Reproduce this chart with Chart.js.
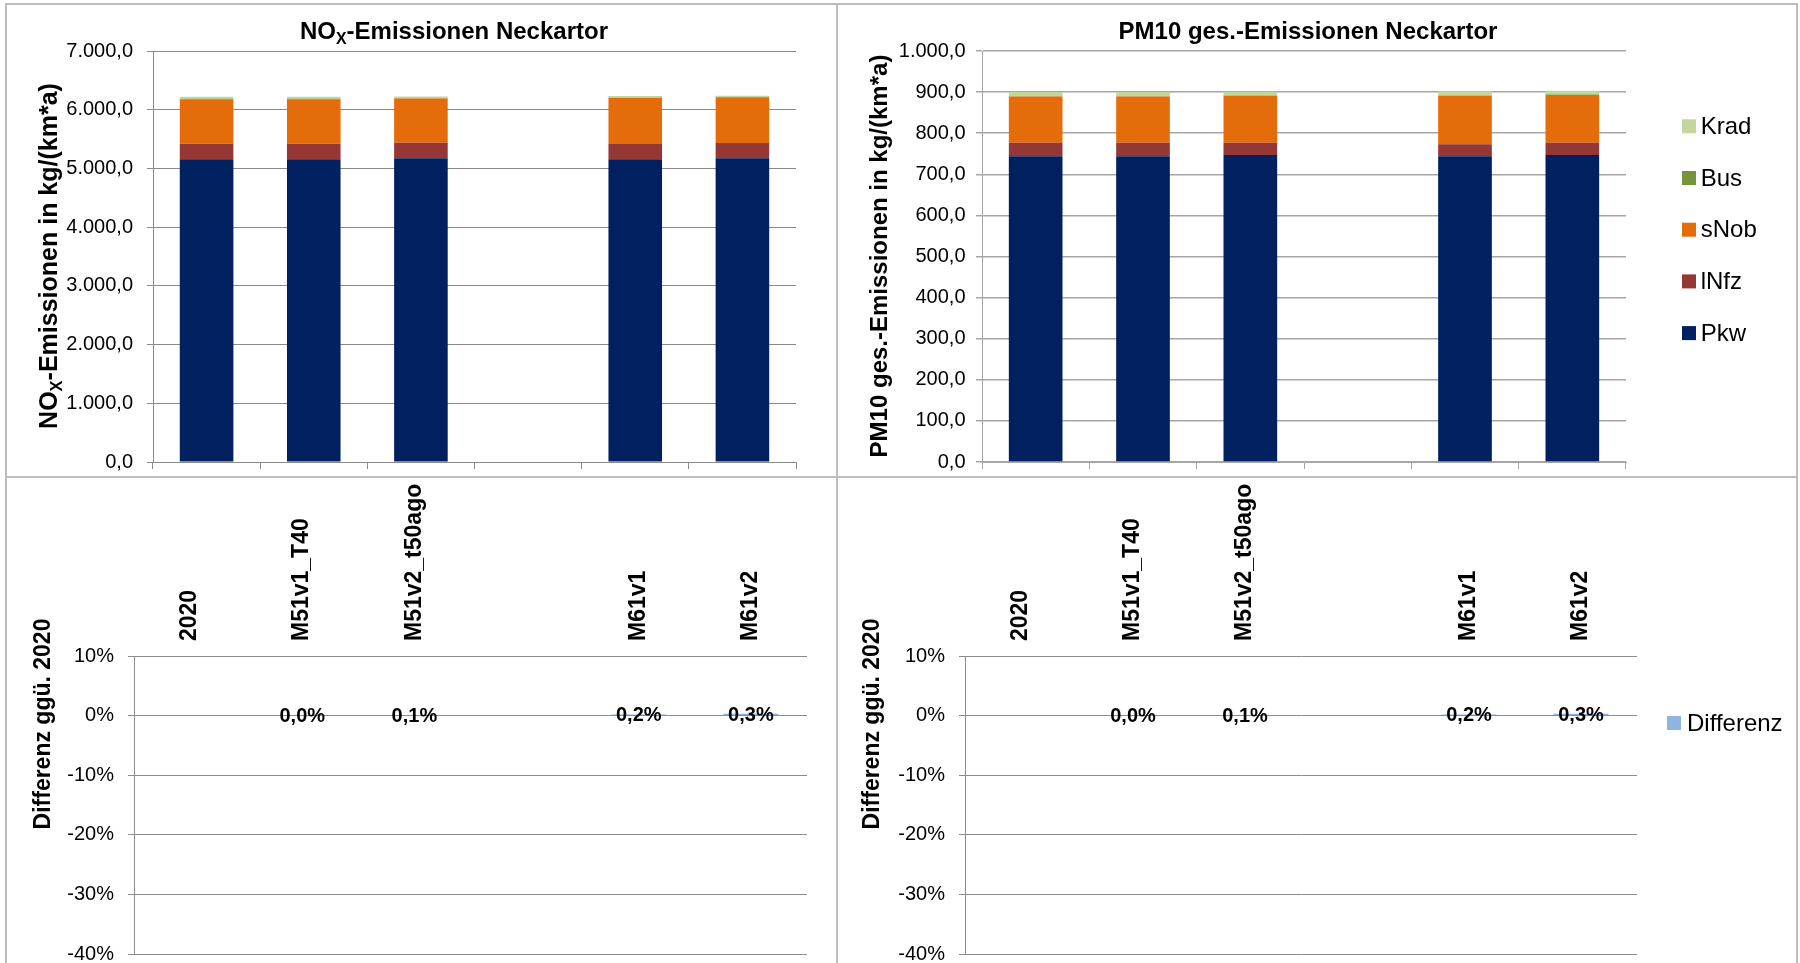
<!DOCTYPE html>
<html>
<head>
<meta charset="utf-8">
<script src="https://cdn.jsdelivr.net/npm/chart.js@4.4.0/dist/chart.umd.min.js"></script>
<style>
  html, body { margin: 0; padding: 0; background: #fff; width: 1800px; height: 963px; overflow: hidden; }
  .panel { position: absolute; }
  .rule { position: absolute; background: #bdbdbd; z-index: 2; }
</style>
</head>
<body>
<div class="panel" style="left:6px;top:4px;width:831px;height:493px"><canvas id="noxChart"></canvas></div>
<div class="panel" style="left:837px;top:4px;width:960px;height:493px"><canvas id="pmChart"></canvas></div>
<div class="panel" style="left:6px;top:477px;width:831px;height:503px"><canvas id="noxDiffChart"></canvas></div>
<div class="panel" style="left:837px;top:477px;width:960px;height:503px"><canvas id="pmDiffChart"></canvas></div>

<div class="rule" style="left:5px;top:3px;width:1793px;height:2px"></div>
<div class="rule" style="left:5px;top:476px;width:1793px;height:2px"></div>
<div class="rule" style="left:5px;top:3px;width:2px;height:960px"></div>
<div class="rule" style="left:836px;top:3px;width:2px;height:960px"></div>
<div class="rule" style="left:1796px;top:3px;width:2px;height:960px"></div>

<script>
// categories (one empty slot between the M51 and M61 groups)
const categories = ['2020', 'M51v1_T40', 'M51v2_t50ago', '', 'M61v1', 'M61v2'];
const seriesNames = ['Pkw', 'lNfz', 'sNob', 'Bus', 'Krad'];
const seriesColors = ['#002060', '#953735', '#E46C0A', '#77933C', '#C3D69B'];

// NOx emissions in kg/(km*a)
const noxPkw  = [5155, 5155, 5175, null, 5155, 5175];
const noxLnfz = [265, 265, 262, null, 262, 258];
const noxSnob = [760, 760, 752, null, 782, 779];
const noxBus  = [5, 5, 5, null, 5, 5];
const noxKrad = [35, 35, 32, null, 30, 22];

// PM10 emissions in kg/(km*a)
const pmPkw  = [744, 744, 747, null, 744, 747];
const pmLnfz = [33, 33, 30, null, 29, 30];
const pmSnob = [112, 112, 114, null, 118, 116];
const pmBus  = [1, 1, 1, null, 1, 1];
const pmKrad = [10, 10, 9, null, 10, 9];

// difference vs. 2020 in percent
const noxDiff = [null, 0.0, 0.1, null, 0.2, 0.3];
const pmDiff  = [null, 0.0, 0.1, null, 0.2, 0.3];

// axis ranges
const noxAxis  = { min: 0, max: 7000, step: 1000 };
const pmAxis   = { min: 0, max: 1000, step: 100 };
const diffAxis = { min: -40, max: 10, step: 10 };

const FONT = '"Liberation Sans", Arial, Helvetica, sans-serif';
Chart.defaults.font.family = FONT;
Chart.defaults.color = '#000';

function deNum(v) {
  const parts = Number(v).toFixed(1).split('.');
  parts[0] = parts[0].replace(/\B(?=(\d{3})+(?!\d))/g, '.');
  return parts.join(',');
}
function pct(v) {
  return Number(v).toFixed(1).replace('.', ',') + '%';
}

// titles with subscripts, optionally rotated
function richTextPlugin(items) {
  return {
    id: 'richText',
    afterDraw(chart) {
      const ctx = chart.ctx;
      items.forEach(it => {
        const size = it.size;
        const subSize = size * 0.66;
        const fontOf = s => 'bold ' + s + 'px ' + FONT;
        ctx.save();
        ctx.translate(it.x, it.y);
        if (it.rotate) ctx.rotate(it.rotate);
        ctx.fillStyle = '#000';
        ctx.textAlign = 'left';
        ctx.textBaseline = 'alphabetic';
        let w = 0;
        it.parts.forEach(p => {
          ctx.font = fontOf(p.sub ? subSize : size);
          w += ctx.measureText(p.t).width;
        });
        let x = -w / 2;
        const base = size * 0.36;
        it.parts.forEach(p => {
          ctx.font = fontOf(p.sub ? subSize : size);
          ctx.fillText(p.t, x, p.sub ? base + size * 0.2 : base);
          x += ctx.measureText(p.t).width;
        });
        ctx.restore();
      });
    }
  };
}

function sideLegendPlugin(cfg) {
  return {
    id: 'sideLegend',
    afterDraw(chart) {
      const ctx = chart.ctx;
      const items = chart.data.datasets.map(d => ({ label: d.label, color: d.backgroundColor }));
      if (cfg.reverse) items.reverse();
      const x = chart.chartArea.right + cfg.dx;
      ctx.save();
      ctx.font = '24px ' + FONT;
      ctx.textBaseline = 'middle';
      ctx.textAlign = 'left';
      items.forEach((it, i) => {
        const cy = cfg.y + i * cfg.step;
        ctx.fillStyle = it.color;
        ctx.fillRect(x, cy - 7, 14, 14);
        ctx.fillStyle = '#000';
        ctx.fillText(it.label, x + cfg.gap, cy + 1);
      });
      ctx.restore();
    }
  };
}

const valueLabelPlugin = {
  id: 'valueLabels',
  afterDatasetsDraw(chart) {
    const ctx = chart.ctx;
    const meta = chart.getDatasetMeta(0);
    const values = chart.data.datasets[0].data;
    ctx.save();
    ctx.font = 'bold 20px ' + FONT;
    ctx.textAlign = 'center';
    ctx.textBaseline = 'middle';
    ctx.fillStyle = '#000';
    meta.data.forEach((bar, i) => {
      const v = values[i];
      if (v === null || v === undefined) return;
      ctx.fillText(pct(v), bar.x, (bar.y + bar.base) / 2 + 1);
    });
    ctx.restore();
  }
};

function stackedChart(id, series, axis, o) {
  const datasets = seriesNames.map((name, i) => ({
    label: name,
    data: series[i],
    backgroundColor: seriesColors[i],
    borderWidth: 0,
    barPercentage: 0.5,
    categoryPercentage: 1
  }));
  return new Chart(document.getElementById(id), {
    type: 'bar',
    data: { labels: categories, datasets: datasets },
    options: {
      responsive: true,
      maintainAspectRatio: false,
      animation: false,
      layout: { padding: { top: 47, right: o.right, bottom: 20, left: 0 } },
      plugins: { legend: { display: false }, tooltip: { enabled: false }, title: { display: false } },
      scales: {
        x: {
          stacked: true,
          grid: { offset: true, drawOnChartArea: false, drawTicks: true, tickLength: 7, color: o.grid },
          border: { display: true, color: o.grid },
          ticks: { display: false },
          afterFit: s => { s.height = 15; }
        },
        y: {
          stacked: true,
          min: axis.min,
          max: axis.max,
          ticks: { stepSize: axis.step, callback: deNum, font: { size: 20 }, padding: o.tickPad },
          grid: { color: o.grid, lineWidth: o.gridWidth, tickLength: 6 },
          border: { color: o.grid },
          afterFit: s => { s.width = o.yWidth; }
        }
      }
    },
    plugins: o.plugins
  });
}

function diffChart(id, values, o) {
  return new Chart(document.getElementById(id), {
    type: 'bar',
    data: {
      labels: categories,
      datasets: [{
        label: 'Differenz',
        data: values,
        backgroundColor: '#8EB4E3',
        borderWidth: 0,
        barPercentage: 0.49,
        categoryPercentage: 1
      }]
    },
    options: {
      responsive: true,
      maintainAspectRatio: false,
      animation: false,
      layout: { padding: { top: 0, right: o.right, bottom: 26, left: 0 } },
      plugins: { legend: { display: false }, tooltip: { enabled: false }, title: { display: false } },
      scales: {
        x: {
          position: 'top',
          grid: { display: false, drawTicks: false },
          border: { display: false },
          ticks: { minRotation: 90, maxRotation: 90, autoSkip: false, padding: 15, labelOffset: 27.5,
                   font: { size: 23, weight: 'bold' } },
          afterFit: s => { s.height = 179; }
        },
        y: {
          min: diffAxis.min,
          max: diffAxis.max,
          ticks: { stepSize: diffAxis.step, callback: v => v + '%', font: { size: 20 }, padding: 14 },
          grid: { color: '#8c8c8c', tickLength: 6 },
          border: { color: '#8c8c8c' },
          afterFit: s => { s.width = o.yWidth; }
        }
      }
    },
    plugins: o.plugins
  });
}

stackedChart('noxChart', [noxPkw, noxLnfz, noxSnob, noxBus, noxKrad], noxAxis, {
  right: 41, yWidth: 147, tickPad: 14, grid: '#8a8a8a', gridWidth: 1,
  plugins: [richTextPlugin([
    { x: 448, y: 26.5, size: 24, parts: [{ t: 'NO' }, { t: 'X', sub: true }, { t: '-Emissionen Neckartor' }] },
    { x: 42, y: 252, size: 25, rotate: -Math.PI / 2,
      parts: [{ t: 'NO' }, { t: 'X', sub: true }, { t: '-Emissionen in kg/(km*a)' }] }
  ])]
});

stackedChart('pmChart', [pmPkw, pmLnfz, pmSnob, pmBus, pmKrad], pmAxis, {
  right: 171, yWidth: 145, tickPad: 10.5, grid: '#a6a6a6', gridWidth: 1.5,
  plugins: [
    richTextPlugin([
      { x: 471, y: 26.5, size: 24, parts: [{ t: 'PM10 ges.-Emissionen Neckartor' }] },
      { x: 41, y: 252, size: 24, rotate: -Math.PI / 2, parts: [{ t: 'PM10 ges.-Emissionen in kg/(km*a)' }] }
    ]),
    sideLegendPlugin({ reverse: true, dx: 56, y: 122.3, step: 51.7, gap: 18.7 })
  ]
});

diffChart('noxDiffChart', noxDiff, {
  right: 30, yWidth: 128,
  plugins: [
    valueLabelPlugin,
    richTextPlugin([{ x: 36, y: 247, size: 23, rotate: -Math.PI / 2, parts: [{ t: 'Differenz ggü. 2020' }] }])
  ]
});

diffChart('pmDiffChart', pmDiff, {
  right: 160, yWidth: 128,
  plugins: [
    valueLabelPlugin,
    richTextPlugin([{ x: 34, y: 247, size: 23, rotate: -Math.PI / 2, parts: [{ t: 'Differenz ggü. 2020' }] }]),
    sideLegendPlugin({ reverse: false, dx: 30, y: 246, step: 0, gap: 20 })
  ]
});
</script>
</body>
</html>
